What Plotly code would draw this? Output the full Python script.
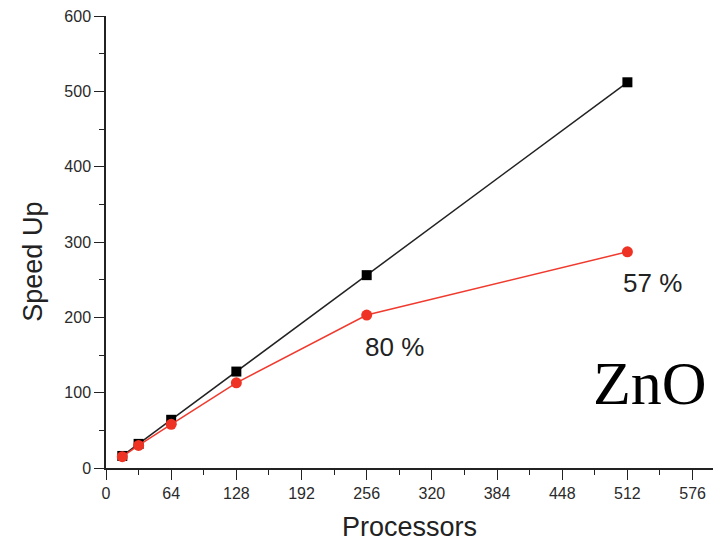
import plotly.graph_objects as go

processors = [16, 32, 64, 128, 256, 512]
ideal_speedup = [16, 32, 64, 128, 256, 512]
zno_speedup = [15, 30, 58, 113, 203, 287]

x_ticks = [0, 64, 128, 192, 256, 320, 384, 448, 512, 576]
y_ticks = [0, 100, 200, 300, 400, 500, 600]

efficiency_labels = ["80 %", "57 %"]
efficiency_x = [283, 537]
efficiency_y = [160, 245]

FONT = "Liberation Sans, Arial"

fig = go.Figure()
fig.add_trace(go.Scatter(
    x=processors, y=ideal_speedup, mode="lines+markers",
    line=dict(color="#222222", width=1.5),
    marker=dict(symbol="square", size=10, color="black"),
    showlegend=False,
))
fig.add_trace(go.Scatter(
    x=processors, y=zno_speedup, mode="lines+markers",
    line=dict(color="#f03a2e", width=1.5),
    marker=dict(symbol="circle", size=11, color="#ee3325"),
    showlegend=False,
))

for t, xx, yy in zip(efficiency_labels, efficiency_x, efficiency_y):
    fig.add_annotation(x=xx, y=yy, text=t, showarrow=False,
                       xanchor="center", yanchor="middle",
                       font=dict(family=FONT, size=26, color="#222222"))

fig.add_annotation(x=534, y=113, text="ZnO", showarrow=False,
                   xanchor="center", yanchor="middle",
                   font=dict(family="Liberation Serif, Times New Roman", size=62, color="black"))

# axis titles as annotations (positioned like the original)
fig.add_annotation(xref="paper", yref="paper", x=-0.12, y=0.456, text="Speed Up",
                   textangle=-90, showarrow=False, xanchor="center", yanchor="middle",
                   font=dict(family=FONT, size=27, color="#222222"))
fig.add_annotation(xref="paper", yref="paper", x=0.498, y=-0.13, text="Processors",
                   showarrow=False, xanchor="center", yanchor="middle",
                   font=dict(family=FONT, size=27, color="#222222"))

axis_common = dict(
    showline=True, linecolor="#222222", linewidth=1.5,
    showgrid=False, zeroline=False,
    ticks="outside", ticklen=10, tickwidth=1.2, tickcolor="#222222",
    tickfont=dict(family=FONT, size=16, color="#2a2a2a"),
    ticklabeloverflow="allow",
)

fig.update_layout(
    width=713, height=534,
    margin=dict(l=98, r=5, t=8, b=74, autoexpand=False),
    plot_bgcolor="white", paper_bgcolor="white",
    xaxis=dict(
        range=[0, 599], tickmode="array", tickvals=x_ticks,
        ticktext=[str(v) for v in x_ticks],
        minor=dict(ticks="outside", ticklen=5, tickwidth=1.2, tickcolor="#222222", dtick=32, tick0=0),
        **axis_common,
    ),
    yaxis=dict(
        range=[0, 600], tickmode="array", tickvals=y_ticks,
        ticktext=[str(v) for v in y_ticks],
        minor=dict(ticks="outside", ticklen=5, tickwidth=1.2, tickcolor="#222222", dtick=50, tick0=0),
        **axis_common,
    ),
)

fig.write_html("out.html")
